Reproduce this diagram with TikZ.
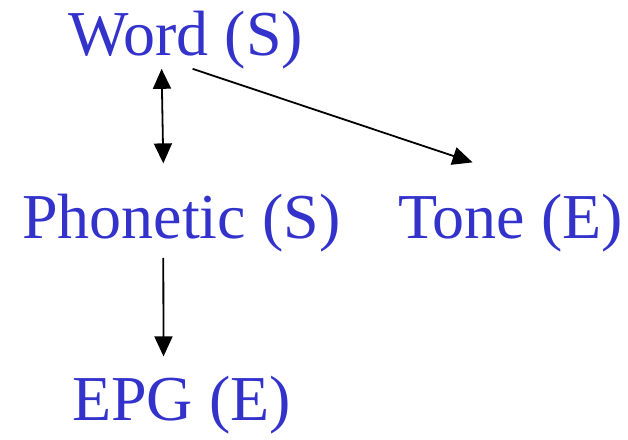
\documentclass[tikz,border=0pt]{standalone}
\usepackage{fontspec}
\setmainfont{Liberation Serif}
\usetikzlibrary{arrows.meta}
\definecolor{wordblue}{RGB}{51,51,204}

\begin{document}
\begin{tikzpicture}[x=1pt,y=-1pt,
        lbl/.style={wordblue,font=\fontsize{64}{64}\selectfont,inner sep=0pt,anchor=base west},
        arr/.style={-{Triangle[length=20pt,width=18pt]},line width=1.8pt}
    ]
    \useasboundingbox (0,0) rectangle (628,439);
    \node[lbl] (word) at (68,55) {Word (S)};
    \node[lbl] (phon) at (22,238) {Phonetic (S)};
    \node[lbl] (tone) at (398,238) {Tone (E)};
    \node[lbl] (epg) at (72,420) {EPG (E)};
    \draw[arr,{Triangle[length=20pt,width=18pt]}-{Triangle[length=20pt,width=18pt]}]
        ([xshift=-24pt]word.south) -- ([xshift=-18pt,yshift=30pt]phon.north);
    \draw[arr] ([xshift=7pt]word.south) -- ([xshift=-38pt,yshift=31pt]tone.north);
    \draw[arr] ([xshift=-18pt,yshift=-6pt]phon.south) -- ([xshift=-18pt,yshift=19pt]epg.north);
\end{tikzpicture}
\end{document}
